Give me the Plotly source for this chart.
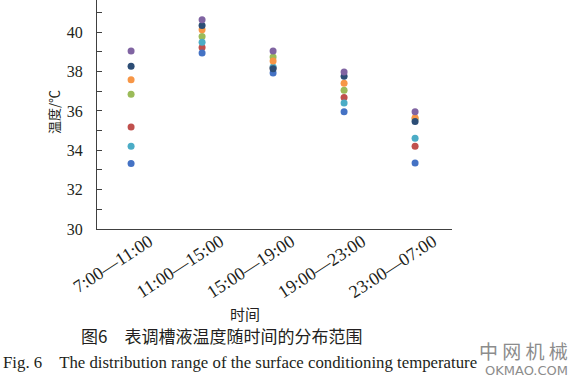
import plotly.graph_objects as go

categories = ["7:00—11:00", "11:00—15:00", "15:00—19:00", "19:00—23:00", "23:00—07:00"]

s_blue = [33.33, 38.95, 37.93, 35.96, 33.36]
s_cyan = [34.20, 39.49, 38.24, 36.41, 34.61]
s_red = [35.19, 39.22, 38.20, 36.68, 34.20]
s_green = [36.85, 39.78, 38.74, 37.05, 35.60]
s_orange = [37.58, 40.13, 38.54, 37.41, 35.66]
s_navy = [38.27, 40.34, 38.15, 37.76, 35.46]
s_purple = [39.05, 40.64, 39.05, 37.98, 35.96]

series = [
    (s_green, "#9BBB59"),
    (s_red, "#C0504D"),
    (s_cyan, "#4BACC6"),
    (s_blue, "#4472C4"),
    (s_orange, "#F79646"),
    (s_navy, "#2C4D75"),
    (s_purple, "#8064A2"),
]

fig = go.Figure()
for vals, col in series:
    fig.add_trace(go.Scatter(x=list(range(len(categories))), y=vals, mode="markers",
                             marker=dict(color=col, size=7), showlegend=False,
                             hoverinfo="skip"))

serif = "Liberation Serif, Times New Roman, serif"
cjk = "Noto Sans CJK SC"

fig.update_layout(
    width=584, height=385,
    margin=dict(l=97, r=132, t=0, b=156),
    paper_bgcolor="white", plot_bgcolor="white",
    font=dict(family=serif, color="#231F20", size=15),
    xaxis=dict(range=[-0.48, 4.52], tickmode="array", automargin=False,
               tickvals=list(range(len(categories))), ticktext=categories,
               tickangle=-33, ticklabelshift=18, ticklabelstandoff=-6,
               showgrid=False, zeroline=False,
               showline=True, linecolor="#404040", linewidth=1.3,
               ticks="", tickfont=dict(family=serif, size=18)),
    yaxis=dict(range=[30, 41.64], tickmode="array", automargin=False,
               tickvals=[30, 32, 34, 36, 38, 40], showgrid=False, zeroline=False,
               showline=True, linecolor="#404040", linewidth=1.3,
               ticks="inside", ticklen=5, tickcolor="#404040", tickwidth=1.2,
               ticklabelstandoff=10,
               minor=dict(dtick=1, tick0=30, ticks="inside", ticklen=5,
                          tickcolor="#404040", tickwidth=1.2, showgrid=False),
               tickfont=dict(family=serif, size=16)),
)

fig.add_annotation(text="温度/℃", x=53, y=112, textangle=-90,
                   font=dict(family=cjk, size=13, color="#231F20"))
fig.add_annotation(text="时间", x=245, y=313,
                   font=dict(family=cjk, size=15, color="#231F20"))
fig.add_annotation(text="图6　表调槽液温度随时间的分布范围", x=221, y=336,
                   font=dict(family=cjk, size=17, color="#231F20"))
fig.add_annotation(text="Fig. 6　The distribution range of the surface conditioning temperature",
                   x=240, y=362,
                   font=dict(family=serif, size=16.8, color="#231F20"))
fig.add_annotation(text="中 网 机 械", x=523, y=350,
                   font=dict(family=cjk, size=19, color="#8C8C8C"))
fig.add_annotation(text="OKMAO.COM", x=526, y=370,
                   font=dict(family="DejaVu Sans", size=13, color="#8C8C8C"))

# convert pixel-placed annotations to paper coordinates
W, H = 584, 385
l, r, t, b = 97, 132, 0, 156
pw, ph = W - l - r, H - t - b
for a in fig.layout.annotations:
    a.xref = "paper"; a.yref = "paper"
    a.xanchor = "center"; a.yanchor = "middle"
    a.showarrow = False
    a.x = (a.x - l) / pw
    a.y = (H - b - a.y) / ph

fig.write_html("out.html", config={"displayModeBar": False},
               post_script="document.body.style.margin='0';")
